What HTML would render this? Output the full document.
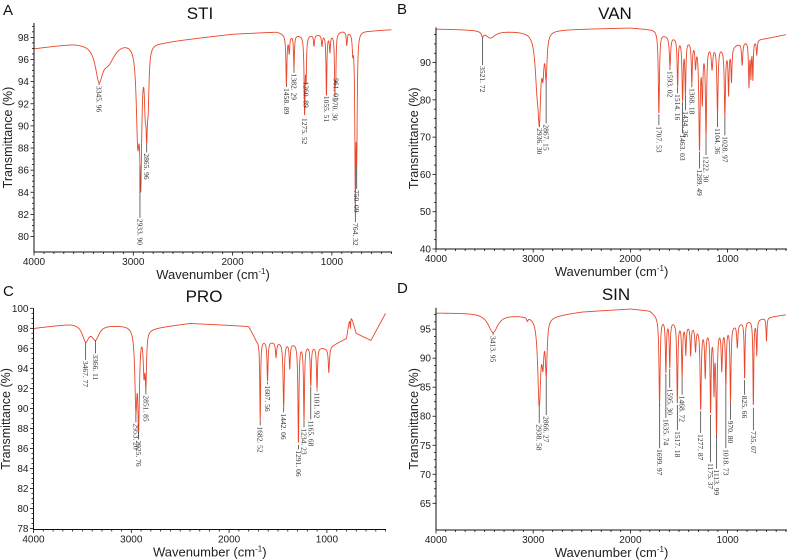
<!DOCTYPE html>
<html><head><meta charset="utf-8"><style>
html,body{margin:0;padding:0;background:#fff;}
svg{display:block;font-family:"Liberation Sans",sans-serif;}
.pk{font-family:"Liberation Serif",serif;font-size:7.5px;fill:#333;}
</style></head><body>
<svg id="fig" width="789" height="560" viewBox="0 0 789 560"></svg>
<script>
// ---------- Panel A: STI ----------
const stiBaseX = [4000,3600,3100,2700,2000,1550,1450,1000,900,600,400];
const stiBaseY = [97.0,97.5,97.7,97.6,98.3,98.5,98.2,98.3,98.6,98.6,98.7];
const stiPeakCenters = [3345,3250,2955,2925,2880,2865,2850,1458,1430,1382,1275,1260,1180,1100,1055,1020,970,961,850,790,764,750];
const stiPeakDepths  = [3.0,1.6,8,11,4,6,4,4.4,1.5,3.0,7.0,3.5,1,1,5.6,1.5,5.0,3.4,1.2,1.5,14,10];
const stiPeakWidths  = [45,80,18,12,10,9,10,6,6,5,6,5,6,6,5,6,5,4,6,6,6,6];
const stiLabels = ["3345. 96","2933. 90","2865. 96","1458. 89","1382. 29","1275. 52","1260. 89","1055. 51","970. 30","961. 01","764. 32","750. 09"];
const stiLabelX = [3345,2933,2865,1458,1382,1275,1260,1055,970,961,764,750];
const stiLabelY = [93.7,81.7,87.6,93.5,94.8,90.8,94.1,92.8,92.6,94.4,81.3,84.3];
const stiYTicks = [80,82,84,86,88,90,92,94,96,98];

// ---------- Panel B: VAN ----------
const vanBaseX = [4000,3600,3300,3000,2800,2000,1750,1650,1200,1000,800,600,400];
const vanBaseY = [99.0,98.8,98.5,98.3,98.8,99.3,98.8,97.5,95,94,96,96.5,97.5];
const vanPeakCenters = [3521,3440,2960,2936,2900,2867,1707,1593,1514,1463,1434,1368,1330,1289,1260,1222,1160,1104,1028,990,960,850,780,760,740,700];
const vanPeakDepths  = [1.2,2.0,12,18,8,11,22,8,13,16,14,11,6,28,14,24,6,18,18,12,9,6,12,9,10,4];
const vanPeakWidths  = [12,60,25,16,12,11,7,8,6,7,6,6,7,8,7,7,9,7,7,6,6,7,6,5,5,6];
const vanLabels = ["3521. 72","2936. 30","2867. 15","1707. 53","1593. 02","1514. 16","1463. 03","1434. 36","1368. 18","1289. 49","1222. 30","1104. 36","1028. 97"];
const vanLabelX = [3521,2936,2867,1707,1593,1514,1463,1434,1368,1289,1222,1104,1028];
const vanLabelY = [89.3,72.7,73.7,73.2,88,81.8,71,77.2,83.4,61.6,65.2,72.7,70.5];
const vanYTicks = [40,50,60,70,80,90];

// ---------- Panel C: PRO ----------
const proBaseX = [4000,3600,3050,2800,2400,1800,1720,1300,1000,800,760,700,550,400];
const proBaseY = [98.0,98.5,98.3,98.0,98.5,98.2,96.8,96.5,96.0,97.0,99.5,97.5,96.8,99.5];
const proPeakCenters = [3467,3366,2953,2925,2870,2851,1682,1607,1520,1442,1380,1291,1234,1165,1101,980,760];
const proPeakDepths  = [1.6,1.4,7.5,9,4,5,8.0,4,1.5,6.5,2.5,10,7.5,4,4.2,2.5,1.5];
const proPeakWidths  = [40,45,13,10,10,8,5,6,7,7,6,6,6,6,6,7,4];
const proLabels = ["3467. 77","3366. 11","2953. 20","2925. 76","2851. 85","1682. 52","1607. 56","1442. 06","1291. 06","1234. 23","1165. 68","1101. 92"];
const proLabelX = [3467,3366,2953,2925,2851,1682,1607,1442,1291,1234,1165,1101];
const proLabelY = [94.85,95.5,88.6,86.9,91.4,88.3,92.4,89.6,85.9,88.1,88.9,91.7];
const proYTicks = [78,80,82,84,86,88,90,92,94,96,98,100];

// ---------- Panel D: SIN ----------
const sinBaseX = [4000,3600,3100,2800,2500,2000,1800,1700,1200,1000,800,600,400];
const sinBaseY = [97.8,97.8,97.4,97.3,98.0,98.5,98.2,97,95,95.5,96.5,97,97.5];
const sinPeakCenters = [3413,3060,2938,2900,2866,1700,1635,1595,1517,1468,1430,1380,1330,1277,1230,1175,1140,1114,1060,1018,970,900,825,735,700,600];
const sinPeakDepths  = [3.2,0.6,15,6,9,15,9,8,14,9,5,5,4,14,8,14,10,18,7,10,13,4,10,15,6,4];
const sinPeakWidths  = [60,8,18,12,11,7,6,6,6,6,6,6,7,7,7,6,6,7,7,6,6,7,5,5,5,5];
const sinLabels = ["3413. 95","2938. 58","2866. 27","1699. 97","1635. 74","1595. 30","1517. 18","1468. 72","1277. 87","1175. 37","1113. 99","1018. 73","970. 80","825. 66","735. 07"];
const sinLabelX = [3413,2938,2866,1699,1635,1595,1517,1468,1277,1175,1113,1018,970,825,735];
const sinLabelY = [94,78.8,80.2,74.5,79.7,84.9,77.6,83.7,77.1,72.1,71,74.5,79.4,83.7,77.6];
const sinYTicks = [65,70,75,80,85,90,95];

const xTicks = [4000,3000,2000,1000];

const NS = "http://www.w3.org/2000/svg";
const svg = document.getElementById('fig');
function mk(tag, attrs, parent){
  const e = document.createElementNS(NS, tag);
  for (const k in attrs) e.setAttribute(k, attrs[k]);
  (parent||svg).appendChild(e);
  return e;
}
function interp(xs, ys, x){
  for (let i=0;i<xs.length-1;i++){
    if (x<=xs[i] && x>=xs[i+1]){
      const t=(xs[i]-x)/(xs[i]-xs[i+1]);
      return ys[i]+t*(ys[i+1]-ys[i]);
    }
  }
  return ys[ys.length-1];
}
function spectrum(x, bx, by, pc, pd, pw){
  let v = interp(bx, by, x);
  for (let i=0;i<pc.length;i++){
    const u=(x-pc[i])/pw[i];
    v -= pd[i]/(1+u*u);
  }
  return v;
}

function panel(cfg){
  const g = mk('g', {});
  
  
  const {L,R,T,B,ymin,ymax} = cfg;
  const xs = w => L + (4000-w)/1000*cfg.pxPerK;
  const ys = v => B - (v-ymin)/(ymax-ymin)*(B-T);

  const lt = mk('text', {x:cfg.letterX, y:cfg.letterY, 'font-size':15, fill:'#111'}, g);
  lt.textContent = cfg.letter;
  
  
  const tt = mk('text', {x:cfg.titleX, y:cfg.titleY, 'font-size':17, 'text-anchor':'middle', fill:'#111'}, g);
  tt.textContent = cfg.title;
  
  

  let d='';
  for (let w=4000; w>=cfg.xEnd; w-=2){
    const v = spectrum(w, cfg.bx, cfg.by, cfg.pc, cfg.pd, cfg.pw);
    const yy = Math.max(T, Math.min(B, ys(v)));
    d += (w===4000?'M':'L') + xs(w).toFixed(2)+','+yy.toFixed(2);
  }
  const line = mk('path', {d, fill:'none', stroke:'#e8472b', 'stroke-width':0.9, 'stroke-linejoin':'round'}, g);
  
  

  for (let i=0;i<cfg.labels.length;i++){
    const w = cfg.lx[i];
    const px = xs(w);
    const cv = spectrum(w, cfg.bx, cfg.by, cfg.pc, cfg.pd, cfg.pw);
    const y1 = ys(cv), y2 = ys(cfg.ly[i]);
    if (y2 > y1 + 1){
      const pl = mk('line', {x1:px, y1:y1, x2:px, y2:y2, stroke:'#444', 'stroke-width':0.8}, g);
      
      
    }
    const tx = mk('text', {x:0, y:0, class:'pk', transform:`translate(${px-2.5},${y2+1}) rotate(90)`}, g);
    tx.textContent = cfg.labels[i];
    
    
  }

  const ax = mk('path', {d:`M${L},${T}V${B}H${R}`, fill:'none', stroke:'#111', 'stroke-width':1}, g);
  
  
  const yt = cfg.yTicks, step = yt[1]-yt[0];
  for (let v=yt[0]; v<=ymax+1e-6; v+=step/4){
    const major = yt.some(t=>Math.abs(t-v)<1e-6);
    const tk = mk('line', {x1:L-(major?3.5:2), x2:L, y1:ys(v), y2:ys(v), stroke:'#111','stroke-width':0.8}, g);
    
    
  }
  for (const v of yt){
    const t = mk('text', {x:L-5, y:ys(v)+3.5, 'font-size':10, 'text-anchor':'end', fill:'#222'}, g);
    t.textContent = v;
    
    
  }
  for (let w=4000; w>=cfg.xEnd; w-=100){
    const major = w%1000===0;
    const tk = mk('line', {x1:xs(w), x2:xs(w), y1:B, y2:B+(major?3.5:2), stroke:'#111','stroke-width':0.8}, g);
    
    
  }
  for (const w of xTicks){
    const t = mk('text', {x:xs(w), y:B+13, 'font-size':10, 'text-anchor':'middle', fill:'#222'}, g);
    t.textContent = w;
    
    
  }
  const xl = mk('text', {x:(L+R)/2, y:B+27, 'font-size':13, 'text-anchor':'middle', fill:'#222'}, g);
  xl.innerHTML = 'Wavenumber (cm<tspan dy="-5" font-size="8">-1</tspan><tspan dy="5">)</tspan>';
  
  
  const yl = mk('text', {x:0, y:0, 'font-size':12.5, 'text-anchor':'middle', fill:'#222', transform:`translate(${cfg.yTitleX},${(T+B)/2}) rotate(-90)`}, g);
  yl.textContent = 'Transmittance (%)';
  
  
}

panel({name:'sti', letter:'A', letterX:3, letterY:15, title:'STI', titleX:200, titleY:19,
  L:34, R:392, T:23, B:252, ymin:78.6, ymax:99.3, pxPerK:99.3, xEnd:400, yTitleX:12,
  bx:stiBaseX, by:stiBaseY, pc:stiPeakCenters, pd:stiPeakDepths, pw:stiPeakWidths,
  labels:stiLabels, lx:stiLabelX, ly:stiLabelY, yTicks:stiYTicks});
panel({name:'van', letter:'B', letterX:397, letterY:14, title:'VAN', titleX:615, titleY:19,
  L:436, R:787, T:27.5, B:249, ymin:40, ymax:99.4, pxPerK:97.2, xEnd:400, yTitleX:418,
  bx:vanBaseX, by:vanBaseY, pc:vanPeakCenters, pd:vanPeakDepths, pw:vanPeakWidths,
  labels:vanLabels, lx:vanLabelX, ly:vanLabelY, yTicks:vanYTicks});
panel({name:'pro', letter:'C', letterX:3, letterY:296, title:'PRO', titleX:204, titleY:302,
  L:33.5, R:386, T:308.3, B:529.5, ymin:77.9, ymax:100, pxPerK:97.8, xEnd:400, yTitleX:10,
  bx:proBaseX, by:proBaseY, pc:proPeakCenters, pd:proPeakDepths, pw:proPeakWidths,
  labels:proLabels, lx:proLabelX, ly:proLabelY, yTicks:proYTicks});
panel({name:'sin', letter:'D', letterX:397, letterY:293, title:'SIN', titleX:616, titleY:300,
  L:436, R:787, T:307.7, B:530, ymin:60.4, ymax:98.7, pxPerK:97.2, xEnd:400, yTitleX:418,
  bx:sinBaseX, by:sinBaseY, pc:sinPeakCenters, pd:sinPeakDepths, pw:sinPeakWidths,
  labels:sinLabels, lx:sinLabelX, ly:sinLabelY, yTicks:sinYTicks});
</script>
</body></html>
